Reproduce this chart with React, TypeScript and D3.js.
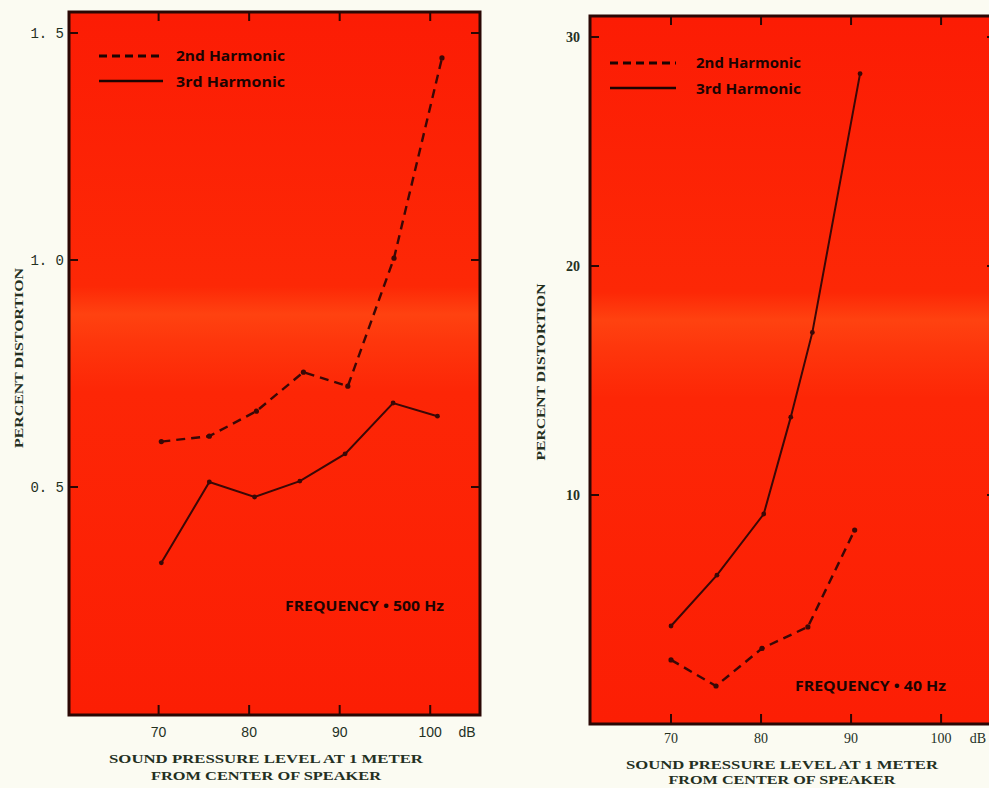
import React from "react";
import * as d3 from "d3";

// ---- Data (500 Hz panel) ----
const leftSecondX = [70.3, 75.6, 80.8, 86.0, 90.9, 96.0, 101.3];
const leftSecondY = [0.6, 0.612, 0.667, 0.753, 0.722, 1.004, 1.445];
const leftThirdX = [70.3, 75.6, 80.6, 85.6, 90.6, 95.9, 100.8];
const leftThirdY = [0.333, 0.511, 0.478, 0.513, 0.573, 0.685, 0.656];
const leftYTicks = [0.5, 1.0, 1.5];
const leftYTickLabels = ["0. 5", "1. 0", "1. 5"];

// ---- Data (40 Hz panel) ----
const rightSecondX = [70, 75, 80.1, 85.2, 90.4];
const rightSecondY = [2.8, 1.66, 3.3, 4.24, 8.47];
const rightThirdX = [70, 75.1, 80.3, 83.3, 85.7, 91];
const rightThirdY = [4.28, 6.5, 9.17, 13.4, 17.1, 28.4];
const rightYTicks = [10, 20, 30];
const rightYTickLabels = ["10", "20", "30"];

const xTicks = [70, 80, 90, 100];
const legendLabels = ["2nd Harmonic", "3rd Harmonic"];
const xTitle = ["SOUND PRESSURE LEVEL AT 1 METER", "FROM CENTER OF SPEAKER"];
const yTitle = "PERCENT DISTORTION";

const BG = "#fbfbf2";
const INK = "#3a0806";
const TXT = "#24301f";

type PanelProps = {
  id: string;
  px0: number; px1: number; py0: number; py1: number;
  xDomain: [number, number];
  yDomain: [number, number]; yRange: [number, number];
  secX: number[]; secY: number[]; thiX: number[]; thiY: number[];
  yTicks: number[]; yTickLabels: string[];
  yLabelFont: string; yLabelX: number; yLabelWeight: string;
  xLabelFont: string; xLabelY: number; dbX: number;
  legendX0: number; legendX1: number; legendY: number; legendTextX: number; legendTextW: number;
  freqText: string; freqX: number; freqY: number; freqW: number;
  titleCx: number; titleY1: number; titleY2: number; titleW1: number; titleW2: number;
  yTitleX: number; yTitleCy: number; yTitleW: number;
};

function Panel(p: PanelProps) {
  const x = d3.scaleLinear().domain(p.xDomain).range([p.px0, p.px1]);
  const y = d3.scaleLinear().domain(p.yDomain).range(p.yRange);
  const line = d3.line<[number, number]>().x((d) => x(d[0])).y((d) => y(d[1]));
  const sec = p.secX.map((v, i) => [v, p.secY[i]] as [number, number]);
  const thi = p.thiX.map((v, i) => [v, p.thiY[i]] as [number, number]);
  const w = p.px1 - p.px0;
  const h = p.py1 - p.py0;
  return (
    <g>
      <defs>
        <linearGradient id={p.id + "g"} x1="0" y1="0" x2="0" y2="1">
          <stop offset="0" stopColor="#fc1c04" />
          <stop offset="0.39" stopColor="#fd2806" />
          <stop offset="0.43" stopColor="#ff4210" />
          <stop offset="0.47" stopColor="#fe360c" />
          <stop offset="0.54" stopColor="#fd2606" />
          <stop offset="1" stopColor="#fc1e04" />
        </linearGradient>
      </defs>
      <rect x={p.px0} y={p.py0} width={w} height={h} fill={`url(#${p.id}g)`} stroke="#2a0704" strokeWidth={3} />
      {p.yTicks.map((t, i) => (
        <g key={"y" + i}>
          <line x1={p.px0} x2={p.px0 + 9} y1={y(t)} y2={y(t)} stroke="#2a0704" strokeWidth={2} />
          <line x1={p.px1} x2={p.px1 - 9} y1={y(t)} y2={y(t)} stroke="#2a0704" strokeWidth={2} />
          <text x={p.yLabelX} y={y(t) + 5} textAnchor="end" fontFamily={p.yLabelFont} fontSize={14} fontWeight={p.yLabelWeight} fill={TXT}>
            {p.yTickLabels[i]}
          </text>
        </g>
      ))}
      {xTicks.map((t) => (
        <g key={"x" + t}>
          <line x1={x(t)} x2={x(t)} y1={p.py1} y2={p.py1 - 10} stroke="#2a0704" strokeWidth={2} />
          <line x1={x(t)} x2={x(t)} y1={p.py0} y2={p.py0 + 9} stroke="#2a0704" strokeWidth={2} />
          <text x={x(t)} y={p.xLabelY} textAnchor="middle" fontFamily={p.xLabelFont} fontSize={14} fill={TXT}>
            {t}
          </text>
        </g>
      ))}
      <text x={p.dbX} y={p.xLabelY} textAnchor="middle" fontFamily={p.xLabelFont} fontSize={14} fill={TXT}>dB</text>
      <path d={line(sec) || ""} fill="none" stroke={INK} strokeWidth={2.4} strokeDasharray="9,6" />
      <path d={line(thi) || ""} fill="none" stroke={INK} strokeWidth={2} />
      {sec.map((d, i) => (
        <circle key={"s" + i} cx={x(d[0])} cy={y(d[1])} r={2.6} fill={INK} />
      ))}
      {thi.map((d, i) => (
        <circle key={"t" + i} cx={x(d[0])} cy={y(d[1])} r={2.4} fill={INK} />
      ))}
      <line x1={p.legendX0} x2={p.legendX1} y1={p.legendY} y2={p.legendY} stroke="#1c0402" strokeWidth={3} strokeDasharray="8,5" />
      <line x1={p.legendX0} x2={p.legendX1} y1={p.legendY + 25} y2={p.legendY + 25} stroke="#1c0402" strokeWidth={2.5} />
      {legendLabels.map((l, i) => (
        <text key={l} x={p.legendTextX} y={p.legendY + 5 + i * 26} fontFamily="Open Sans, sans-serif" fontWeight="bold" fontSize={14.5} fill="#1c0402" textLength={p.legendTextW} lengthAdjust="spacingAndGlyphs">
          {l}
        </text>
      ))}
      <text x={p.freqX} y={p.freqY} fontFamily="Open Sans, sans-serif" fontWeight="bold" fontSize={14.5} fill="#1c0402" textLength={p.freqW} lengthAdjust="spacingAndGlyphs">
        {p.freqText}
      </text>
      <text x={p.titleCx} y={p.titleY1} textAnchor="middle" fontFamily="Liberation Serif, serif" fontWeight="bold" fontSize={13.5} fill={TXT} textLength={p.titleW1} lengthAdjust="spacingAndGlyphs">
        {xTitle[0]}
      </text>
      <text x={p.titleCx} y={p.titleY2} textAnchor="middle" fontFamily="Liberation Serif, serif" fontWeight="bold" fontSize={13.5} fill={TXT} textLength={p.titleW2} lengthAdjust="spacingAndGlyphs">
        {xTitle[1]}
      </text>
      <text transform={`translate(${p.yTitleX},${p.yTitleCy}) rotate(-90)`} textAnchor="middle" fontFamily="Liberation Serif, serif" fontWeight="bold" fontSize={13.5} fill={TXT} textLength={p.yTitleW} lengthAdjust="spacingAndGlyphs">
        {yTitle}
      </text>
    </g>
  );
}

export default function App() {
  return (
    <svg width={989} height={788} style={{ position: "absolute", left: 0, top: 0 }}>
      <rect x={0} y={0} width={989} height={788} fill={BG} />
      <Panel
        id="L"
        px0={69} px1={480} py0={12} py1={715}
        xDomain={[60.1, 105.5]}
        yDomain={[0, 1.5]} yRange={[714, 33]}
        secX={leftSecondX} secY={leftSecondY} thiX={leftThirdX} thiY={leftThirdY}
        yTicks={leftYTicks} yTickLabels={leftYTickLabels}
        yLabelFont="Liberation Mono, monospace" yLabelX={64} yLabelWeight="normal"
        xLabelFont="Liberation Sans, sans-serif" xLabelY={737} dbX={467}
        legendX0={99} legendX1={163} legendY={56} legendTextX={176} legendTextW={109}
        freqText="FREQUENCY • 500 Hz" freqX={285} freqY={611} freqW={159}
        titleCx={266} titleY1={763} titleY2={780} titleW1={314} titleW2={230}
        yTitleX={23} yTitleCy={358} yTitleW={180}
      />
      <Panel
        id="R"
        px0={590} px1={996} py0={16} py1={724}
        xDomain={[61, 106.1]}
        yDomain={[0, 30]} yRange={[724, 37]}
        secX={rightSecondX} secY={rightSecondY} thiX={rightThirdX} thiY={rightThirdY}
        yTicks={rightYTicks} yTickLabels={rightYTickLabels}
        yLabelFont="Liberation Serif, serif" yLabelX={580} yLabelWeight="bold"
        xLabelFont="Liberation Serif, serif" xLabelY={743} dbX={978}
        legendX0={610} legendX1={676} legendY={63} legendTextX={696} legendTextW={105}
        freqText="FREQUENCY • 40 Hz" freqX={795} freqY={691} freqW={151}
        titleCx={782} titleY1={769} titleY2={784} titleW1={312} titleW2={227}
        yTitleX={545} yTitleCy={372} yTitleW={177}
      />
    </svg>
  );
}
